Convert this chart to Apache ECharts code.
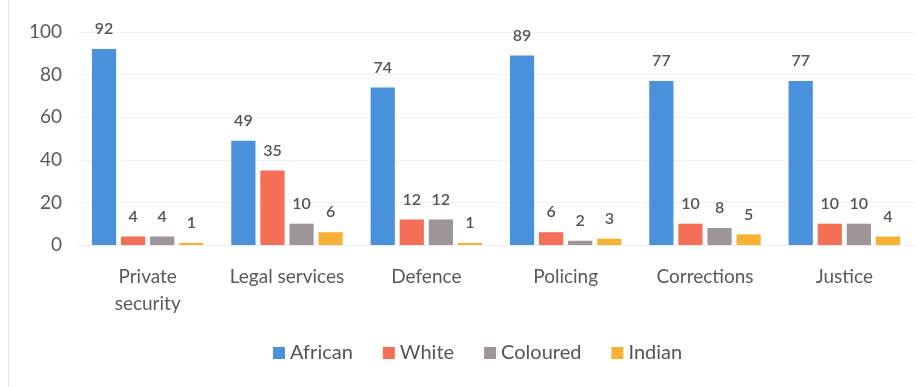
<!DOCTYPE html>
<html>
<head>
<meta charset="utf-8">
<script src="https://cdn.jsdelivr.net/npm/echarts@6/dist/echarts.min.js"></script>
<style>
  html, body { margin: 0; padding: 0; background: #fff; }
  #chart { width: 915px; height: 387px; }
</style>
</head>
<body>
<div id="chart"></div>
<script>
// 数据
const categories = ['Private\nsecurity', 'Legal services', 'Defence', 'Policing', 'Corrections', 'Justice']
const african = [92, 49, 74, 89, 77, 77]
const white = [4, 35, 12, 6, 10, 10]
const coloured = [4, 10, 12, 2, 8, 10]
const indian = [1, 6, 1, 3, 5, 4]
const yTicks = [0, 20, 40, 60, 80, 100]

const font = 'Lato, "Open Sans", sans-serif'

const makeSeries = (name, data, color) => ({
  name,
  type: 'bar',
  data,
  barGap: '20%',
  barCategoryGap: '20%',
  itemStyle: { color },
  label: {
    show: true,
    position: 'top',
    distance: 12,
    color: '#555',
    fontSize: 16,
    fontWeight: 600,
    fontFamily: font
  }
})

const chart = echarts.init(document.getElementById('chart'))
chart.setOption({
  animation: false,
  textStyle: { fontFamily: font },
  grid: { left: 78, right: 1, top: 32, bottom: 142 },
  graphic: [{
    type: 'line',
    shape: { x1: 8.5, y1: 0, x2: 8.5, y2: 387 },
    style: { stroke: '#dbe6f5', lineWidth: 1 }
  }],
  legend: {
    bottom: 19,
    left: 268,
    itemWidth: 12,
    itemHeight: 12,
    itemGap: 30,
    icon: 'rect',
    textStyle: { color: '#555', fontSize: 20, fontFamily: font },
    data: ['African', 'White', 'Coloured', 'Indian']
  },
  xAxis: {
    type: 'category',
    data: categories,
    axisLine: { show: true, lineStyle: { color: '#eeeeee' } },
    axisTick: { show: false },
    axisLabel: { interval: 0, color: '#595959', fontSize: 19, margin: 18, lineHeight: 27, fontFamily: font }
  },
  yAxis: {
    type: 'value',
    min: yTicks[0],
    max: yTicks[yTicks.length - 1],
    interval: 20,
    axisLine: { show: false },
    axisTick: { show: false },
    splitLine: { lineStyle: { color: '#f2f2f2' } },
    axisLabel: { color: '#595959', fontSize: 19, margin: 16, fontFamily: font }
  },
  series: [
    makeSeries('African', african, '#4a91dc'),
    makeSeries('White', white, '#f56f56'),
    makeSeries('Coloured', coloured, '#9d9599'),
    makeSeries('Indian', indian, '#f8b133')
  ]
})

window.addEventListener('resize', () => chart.resize())
</script>
</body>
</html>
